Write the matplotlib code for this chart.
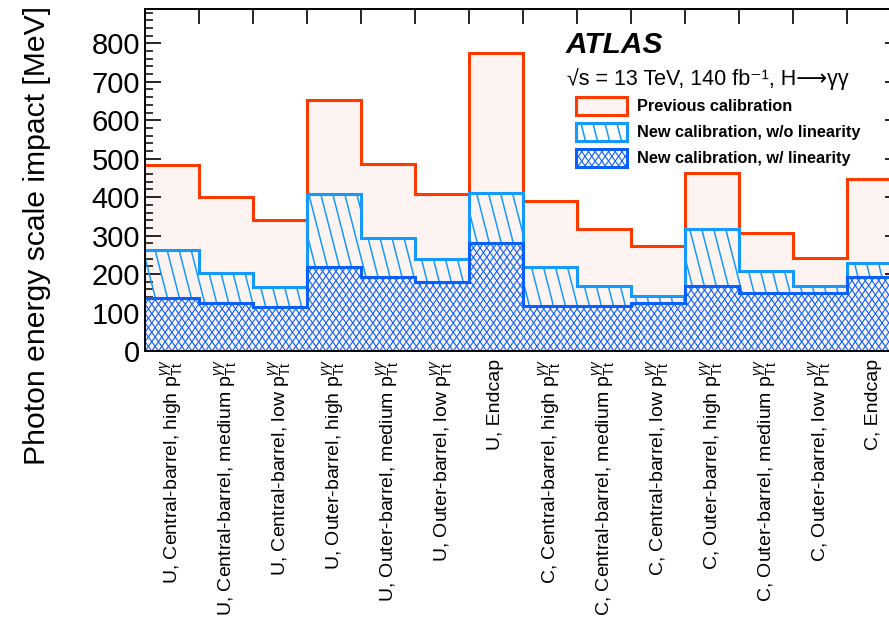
import numpy as np
import matplotlib
matplotlib.use("Agg")
import matplotlib.pyplot as plt
from matplotlib.collections import LineCollection
from matplotlib.patches import Rectangle
from matplotlib.transforms import IdentityTransform
from matplotlib.ticker import MultipleLocator, FixedLocator, NullFormatter, FixedFormatter

plt.rcParams["font.family"] = ["Liberation Sans", "DejaVu Sans"]
plt.rcParams["mathtext.fontset"] = "custom"
plt.rcParams["mathtext.rm"] = "Liberation Sans"
plt.rcParams["mathtext.it"] = "Liberation Sans:italic"
plt.rcParams["mathtext.bf"] = "Liberation Sans:bold"

# ---------------- data ----------------
PT = r" p$_{\mathrm{Tt}}^{\gamma\gamma}$"
tick_labels = [
    "U, Central-barrel, high" + PT,
    "U, Central-barrel, medium" + PT,
    "U, Central-barrel, low" + PT,
    "U, Outer-barrel, high" + PT,
    "U, Outer-barrel, medium" + PT,
    "U, Outer-barrel, low" + PT,
    "U, Endcap",
    "C, Central-barrel, high" + PT,
    "C, Central-barrel, medium" + PT,
    "C, Central-barrel, low" + PT,
    "C, Outer-barrel, high" + PT,
    "C, Outer-barrel, medium" + PT,
    "C, Outer-barrel, low" + PT,
    "C, Endcap",
]
previous = [484, 400, 340, 652, 487, 407, 775, 389, 317, 273, 464, 306, 241, 447]
new_wo_lin = [263, 204, 167, 409, 293, 240, 411, 218, 168, 144, 317, 209, 170, 230]
new_w_lin = [137, 124, 115, 218, 192, 180, 280, 118, 118, 124, 169, 150, 150, 193]
legend_labels = ["Previous calibration", "New calibration, w/o linearity",
                 "New calibration, w/ linearity"]

# ---------------- style ----------------
PINK = "#fdf4f1"
RED = "#ff3a00"
LBLUE = "#1499ff"
DBLUE = "#0a60ff"

W, H = 889, 623
fig = plt.figure(figsize=(W / 100, H / 100), dpi=100)
ax_left, ax_right, ax_top, ax_bottom = 145, 901, 8.7, 351
ax = fig.add_axes([ax_left / W, 1 - ax_bottom / H, (ax_right - ax_left) / W,
                   (ax_bottom - ax_top) / H])

n = len(previous)
edges = np.arange(n + 1)
centers = edges[:-1] + 0.5


def hatch_lines(target, clip, bbox, slopes, spacing, color, lw, zorder):
    x0, y0, x1, y1 = bbox
    hh = y1 - y0
    segs = []
    for s in slopes:
        dx = hh / s
        xs = np.arange(x0 - abs(dx) - spacing, x1 + abs(dx) + spacing, spacing)
        for x in xs:
            segs.append([(x, y1), (x + dx, y0)])
    lc = LineCollection(segs, colors=color, linewidths=lw,
                        transform=IdentityTransform(), zorder=zorder)
    lc.set_clip_path(clip)
    if target is ax:
        ax.add_collection(lc, autolim=False)
    else:
        fig.add_artist(lc)
    return lc


axbbox = ax.bbox.extents
SL_HATCH = ([3.9], 12.0, 1.1)
X_HATCH = ([1.4, -1.4], 6.7, 0.8)

# previous calibration
ax.stairs(previous, edges, fill=True, color=PINK, zorder=1)
ax.stairs(previous, edges, baseline=None, color=RED, lw=2.2, zorder=2)

# new calibration w/o linearity
clip1 = ax.stairs(new_wo_lin, edges, fill=True, facecolor="none", edgecolor="none", zorder=3)
hatch_lines(ax, clip1, axbbox, *SL_HATCH[:2], LBLUE, SL_HATCH[2], 3)
ax.stairs(new_wo_lin, edges, baseline=None, color=LBLUE, lw=2.2, zorder=4)

# new calibration w/ linearity
clip2 = ax.stairs(new_w_lin, edges, fill=True, color=PINK, zorder=5)
hatch_lines(ax, clip2, axbbox, *X_HATCH[:2], DBLUE, X_HATCH[2], 6)
ax.stairs(new_w_lin, edges, baseline=None, color=DBLUE, lw=2.2, zorder=7)

# ---------------- axes ----------------
ax.set_xlim(0, n)
ax.set_ylim(0, 890)
ax.xaxis.set_major_locator(FixedLocator(edges))
ax.xaxis.set_major_formatter(NullFormatter())
ax.xaxis.set_minor_locator(FixedLocator(centers))
ax.xaxis.set_minor_formatter(FixedFormatter(tick_labels))
ax.yaxis.set_major_locator(MultipleLocator(100))
ax.yaxis.set_minor_locator(MultipleLocator(20))
ax.set_yticks(np.arange(0, 801, 100))

for sp in ax.spines.values():
    sp.set_linewidth(1.4)
    sp.set_zorder(10)

ax.tick_params(axis="y", which="major", direction="in", length=11.5, width=1.2,
               left=True, right=True, labelsize=21, pad=3.5)
ax.tick_params(axis="y", which="minor", direction="in", length=5.8, width=1.1,
               left=True, right=True)
ax.tick_params(axis="x", which="major", direction="in", length=10.5, width=1.2,
               top=True, bottom=True)
ax.tick_params(axis="x", which="minor", length=0, labelsize=14, pad=6,
               labelrotation=90)
for lab in ax.xaxis.get_minorticklabels():
    lab.set_verticalalignment("top")
    lab.set_horizontalalignment("center")

fig.text(37 / W, 1 - 6 / H, "Photon energy scale impact [MeV]", rotation=90,
         ha="center", va="top", fontsize=21.7)

# ---------------- annotations ----------------
fig.text(566 / W, 1 - 53 / H, "ATLAS", fontsize=21.5, fontweight="bold",
         fontstyle="italic", ha="left", va="baseline")
fig.text(567 / W, 1 - 85 / H, "\u221as = 13 TeV, 140 fb\u207b\u00b9, H\u27f6\u03b3\u03b3",
         fontsize=15.5, ha="left", va="baseline",
         family=["Liberation Sans", "DejaVu Sans"])

# legend (drawn manually)
box_x0, box_x1 = 576, 627
box_tops = [97, 123, 149]
box_h = 18
text_base = [111, 137, 163]
styles = [(PINK, RED, None), ("white", LBLUE, SL_HATCH), ("white", DBLUE, X_HATCH)]
for top, base, lab, (fc, ec, hat) in zip(box_tops, text_base, legend_labels, styles):
    rect = Rectangle((box_x0, H - top - box_h), box_x1 - box_x0, box_h,
                     transform=IdentityTransform(), facecolor=fc, edgecolor="none",
                     zorder=20)
    fig.add_artist(rect)
    if hat is not None:
        sl, spc, lw = hat
        hatch_lines(fig, rect, (box_x0 - 2, H - top - box_h - 2, box_x1 + 2, H - top + 2),
                    sl, spc, ec, lw, 21)
    border = Rectangle((box_x0, H - top - box_h), box_x1 - box_x0, box_h,
                       transform=IdentityTransform(), facecolor="none", edgecolor=ec,
                       lw=2.2, zorder=22)
    fig.add_artist(border)
    fig.text(637 / W, 1 - base / H, lab, fontsize=11.7, fontweight="bold",
             ha="left", va="baseline", zorder=23)

fig.savefig("out.png", dpi=100)
